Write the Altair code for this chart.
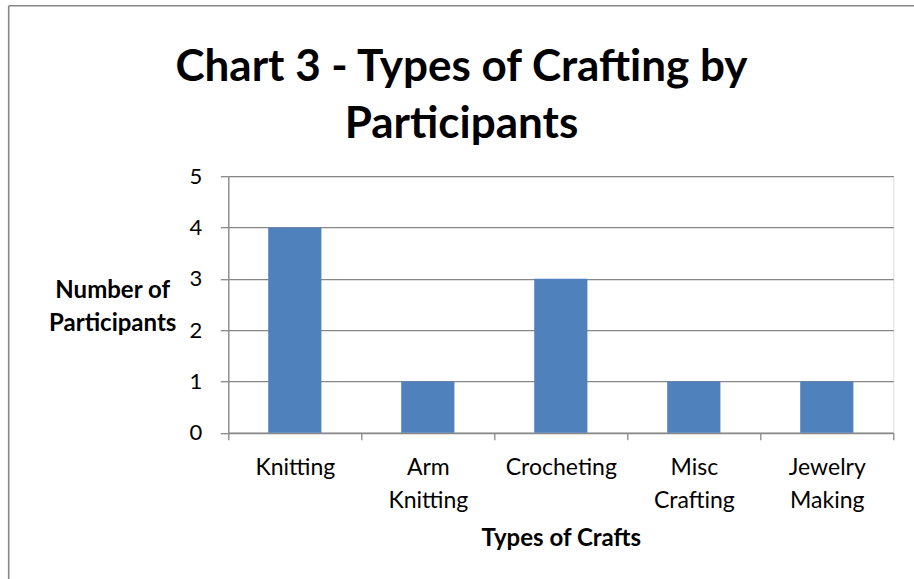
import altair as alt
import pandas as pd

# Craft types and how many participants reported each
crafts = ["Knitting", "Arm Knitting", "Crocheting", "Misc Crafting", "Jewelry Making"]
participants = [4, 1, 3, 1, 1]

df = pd.DataFrame({"craft": crafts, "count": participants})

FONT = "Lato"
GREY = "#878787"
BAR = "#4F81BD"

W, H = 665, 256.5
LEFT, TOP = 228.3, 176.2
FRAME_X, FRAME_Y = 8.7, 5.7

bars = alt.Chart(df).mark_bar(color=BAR, width=alt.RelativeBandSize(0.4)).encode(
    x=alt.X(
        "craft:N",
        sort=crafts,
        scale=alt.Scale(paddingInner=0, paddingOuter=0),
        axis=alt.Axis(
            title="Types of Crafts",
            labelAngle=0,
            labelExpr="split(datum.label, ' ')",
            labelFont=FONT,
            labelFontSize=23,
            labelColor="#000000",
            labelBaseline="alphabetic",
            labelPadding=35,
            labelLineHeight=33,
            tickBand="extent",
            tickSize=7,
            tickColor=GREY,
            tickWidth=1.3,
            domainColor=GREY,
            domainWidth=1.3,
            grid=False,
            titleFont=FONT,
            titleFontSize=24,
            titleFontWeight="bold",
            titleColor="#000000",
            titleBaseline="alphabetic",
            titleY=112.3,
            titleX=W / 2,
        ),
    ),
    y=alt.Y(
        "count:Q",
        scale=alt.Scale(domain=[0, 5], nice=False),
        axis=alt.Axis(
            title=["Number of", "Participants"],
            values=[0, 1, 2, 3, 4, 5],
            format="d",
            labelFont=FONT,
            labelFontSize=22,
            labelColor="#000000",
            labelPadding=18.6,
            tickSize=8,
            tickColor=GREY,
            tickWidth=1.3,
            domainColor=GREY,
            domainWidth=1.3,
            grid=True,
            gridColor=GREY,
            gridWidth=1.3,
            titleFont=FONT,
            titleFontSize=24,
            titleFontWeight="bold",
            titleColor="#000000",
            titleAngle=0,
            titleAlign="center",
            titleBaseline="alphabetic",
            titleLineHeight=33,
            titleX=112.2 - LEFT,
            titleY=297 - TOP,
        ),
    ),
)

# Chart frame: top and left edges of the surrounding box
frame_data = alt.Data(values=[{"k": 0}])
left_edge = alt.Chart(frame_data).mark_rule(color=GREY, strokeWidth=1.6).encode(
    x=alt.value(FRAME_X - LEFT), y=alt.value(FRAME_Y - TOP), y2=alt.value(600 - TOP)
)
top_edge = alt.Chart(frame_data).mark_rule(color=GREY, strokeWidth=1.6).encode(
    x=alt.value(FRAME_X - LEFT), x2=alt.value(930 - LEFT), y=alt.value(FRAME_Y - TOP)
)

chart = (
    alt.layer(bars, left_edge, top_edge)
    .properties(
        width=W,
        height=H,
        title=alt.TitleParams(
            text=["Chart 3 - Types of Crafting by", "Participants"],
            font=FONT,
            fontSize=44,
            fontWeight="bold",
            color="#000000",
            anchor="middle",
            frame="group",
            baseline="alphabetic",
            dx=461.5 - (LEFT + W / 2),
            dy=177,
            lineHeight=57,
            offset=0,
        ),
        autosize=alt.AutoSizeParams(type="none"),
        padding={"left": LEFT, "top": TOP, "right": 914 - LEFT - W, "bottom": 579 - TOP - H},
    )
    .configure_view(stroke=None)
    .configure(background="#FFFFFF")
)

chart.save("out.html", embed_options={"renderer": "svg", "actions": False})
